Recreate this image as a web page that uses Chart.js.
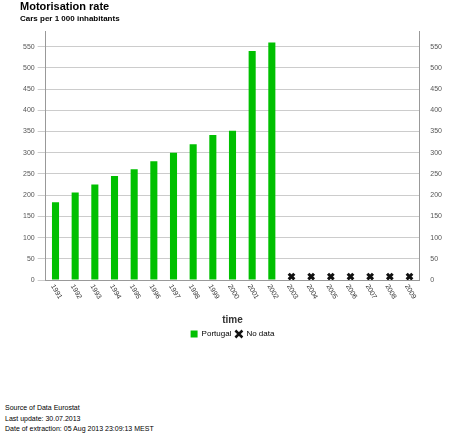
<!DOCTYPE html><html><head><meta charset="utf-8">
<script src="https://cdn.jsdelivr.net/npm/chart.js@4"></script>
<style>body{margin:0;background:#fff;font-family:"Liberation Sans",Arial,sans-serif}
#w{position:absolute;left:0;top:0;width:449px;height:348px}
.f{position:absolute;left:5px;font-size:7px;color:#000}</style></head><body>
<div id="w"><canvas id="c"></canvas></div>
<div class="f" style="top:404px">Source of Data Eurostat</div>
<div class="f" style="top:415px">Last update: 30.07.2013</div>
<div class="f" style="top:425px">Date of extraction: 05 Aug 2013 23:09:13 MEST</div>
<script>
const years=['1991','1992','1993','1994','1995','1996','1997','1998','1999','2000','2001','2002','2003','2004','2005','2006','2007','2008','2009'];
const portugal=[183,206,225,245,261,280,300,320,342,352,540,560,null,null,null,null,null,null,null];
const noData=[null,null,null,null,null,null,null,null,null,null,null,null,8,8,8,8,8,8,8];
const rotLabels={id:'rl',afterDraw(ch){const s=ch.scales.x,c=ch.ctx;c.save();c.font='7px "Liberation Sans",Arial';c.fillStyle='#333';
years.forEach((y,i)=>{const x=s.getPixelForTick(i);c.save();c.translate(x-3,s.top+5);c.rotate(Math.PI/3);c.textBaseline='middle';c.fillText(y,0,0);c.restore();});c.restore();}};
new Chart(document.getElementById('c'),{type:'bar',data:{labels:years,datasets:[
{label:'Portugal',data:portugal,backgroundColor:'#00c000',categoryPercentage:0.8,barPercentage:0.45,yAxisID:'y'},
{label:'No data',type:'line',data:noData,showLine:false,pointStyle:'crossRot',pointRadius:4,pointBorderWidth:3,borderColor:'#111',backgroundColor:'#111',yAxisID:'y'}]},
options:{animation:false,responsive:true,maintainAspectRatio:false,
layout:{padding:{left:20,right:4,top:0,bottom:0}},
plugins:{title:{display:true,text:'Motorisation rate',align:'start',color:'#000',font:{size:11,weight:'bold',family:'"Liberation Sans",Arial'},padding:{top:0,bottom:1}},
subtitle:{display:true,text:'Cars per 1 000 inhabitants',align:'start',color:'#000',font:{size:8,weight:'bold',family:'"Liberation Sans",Arial'},padding:{bottom:8}},
legend:{position:'bottom',labels:{boxWidth:7,boxHeight:7,usePointStyle:true,color:'#333',font:{size:8},padding:4,
generateLabels(ch){return [{text:'Portugal',fillStyle:'#00c000',strokeStyle:'#00c000',lineWidth:0,pointStyle:'rect',datasetIndex:0},{text:'No data',fillStyle:'#111',strokeStyle:'#111',pointStyle:'crossRot',lineWidth:2.5,datasetIndex:1}];}}},tooltip:{enabled:false}},
scales:{x:{grid:{display:false},border:{color:'#999'},ticks:{display:false},title:{display:true,text:'time',color:'#333',font:{size:10,weight:'bold'},padding:{top:26,bottom:0}}},
y:{min:0,max:585,afterBuildTicks(a){a.ticks=[];for(let v=0;v<=575;v+=25)a.ticks.push({value:v});},grid:{color:'#ccc'},border:{color:'#999'},ticks:{color:'#555',font:{size:7}}},
y2:{position:'right',min:0,max:585,afterBuildTicks(a){a.ticks=[];for(let v=0;v<=575;v+=25)a.ticks.push({value:v});},grid:{display:false},border:{color:'#999'},ticks:{color:'#555',font:{size:7}}}}},
plugins:[rotLabels]});
</script></body></html>
